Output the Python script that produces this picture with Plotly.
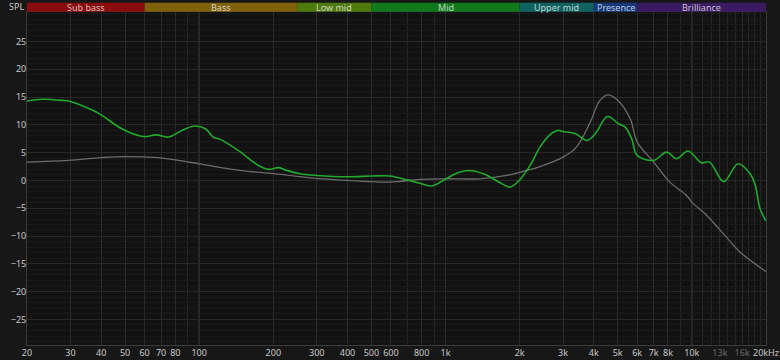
import numpy as np
import plotly.graph_objects as go

# ---- data ----
freq_green = [20, 23, 27.7, 30, 36.6, 40, 48.5, 59.3, 67, 75, 85, 96, 106, 114, 123, 144, 174, 191, 210, 223,
              257, 300, 400, 500, 594, 698, 800, 878, 980, 1110, 1242, 1426, 1666, 1828, 2000, 2206, 2418,
              2652, 2864, 3000, 3372, 3756, 4056, 4546, 5038, 5360, 5700, 6000, 6990, 7900, 8680, 9660,
              10920, 11800, 13460, 15400, 17240, 18100, 18920, 20000]
spl_green = [14.3, 14.6, 14.4, 14.2, 12.7, 11.8, 9.3, 7.9, 8.2, 7.8, 9.0, 9.8, 9.3, 7.8, 7.3, 5.4, 2.7, 2.0, 2.3, 1.9,
             1.2, 0.9, 0.66, 0.8, 0.8, 0.1, -0.6, -1.0, 0.0, 1.3, 1.8, 1.2, -0.4, -1.2, 0.1, 2.7, 6.0,
             8.2, 9.0, 8.8, 8.4, 7.2, 8.4, 11.5, 10.2, 9.6, 7.5, 4.5, 3.6, 5.1, 3.9, 5.3,
             3.2, 3.3, -0.2, 3.0, 1.2, -0.9, -5.1, -7.3]

freq_gray = [20, 29.4, 40, 50, 68, 80, 100, 136, 223, 290, 400, 542, 636, 790, 1000, 1375, 1770, 2130, 2418,
             3000, 3400, 3870, 4220, 4546, 4950, 5620, 6000, 7000, 8140, 9520, 10000, 11500, 13800, 15700, 20000]
spl_gray = [3.3, 3.6, 4.1, 4.3, 4.1, 3.7, 3.0, 2.0, 1.0, 0.4, 0.0, -0.3, -0.2, 0.2, 0.3, 0.3, 0.9, 1.8, 2.5,
            4.2, 6.0, 10.5, 14.3, 15.4, 14.6, 11.1, 6.9, 3.3, -0.3, -2.7, -3.9, -6.3, -10.2, -12.9, -16.4]

band_names = ["Sub bass", "Bass", "Low mid", "Mid", "Upper mid", "Presence", "Brilliance"]
band_edges = [20, 60, 250, 500, 2000, 4000, 6000, 20000]
band_colors = ["#8a0c0c", "#7f600b", "#4e790d", "#11791b", "#0f625f", "#16377a", "#3a1a60"]

x_tick_vals = [20, 30, 40, 50, 60, 70, 80, 100, 200, 300, 400, 500, 600, 800, 1000, 2000, 3000, 4000,
               5000, 6000, 7000, 8000, 10000, 13000, 16000, 20000]
x_tick_text = ["20", "30", "40", "50", "60", "70", "80", "100", "200", "300", "400", "500", "600", "800",
               "1k", "2k", "3k", "4k", "5k", "6k", "7k", "8k", "10k",
               "<span style='color:#6a6a6a'>13k</span>", "<span style='color:#6a6a6a'>16k</span>", "20kHz"]
x_minor_vals = [90, 700, 900, 9000, 11000, 12000, 14000, 15000, 17000, 18000, 19000]
x_bright_vals = [100, 1000, 10000]
y_tick_vals = [-25, -20, -15, -10, -5, 0, 5, 10, 15, 20, 25]
y_range = [-29.6, 30.3]

FONT = "Noto Sans"
FS = 9
x_lo, x_hi = np.log10(20) - 1e-7, np.log10(20000) + 1e-7

fig = go.Figure()
fig.add_trace(go.Scatter(x=freq_gray, y=spl_gray, mode="lines",
                         line=dict(color="#6c6c6c", width=1.3, shape="spline", smoothing=1.0),
                         hoverinfo="skip"))
fig.add_trace(go.Scatter(x=freq_green, y=spl_green, mode="lines",
                         line=dict(color="#22aa2c", width=1.6, shape="spline", smoothing=1.0),
                         hoverinfo="skip"))

shapes = []
for v in x_bright_vals:
    shapes.append(dict(type="line", xref="x", yref="paper", x0=v, x1=v, y0=0, y1=1,
                       line=dict(color="#4a4a4a", width=1), layer="below"))
annotations = []
for i, name in enumerate(band_names):
    a, b = band_edges[i], band_edges[i + 1]
    shapes.append(dict(type="rect", xref="x", yref="paper", x0=a, x1=b, y0=1.001, y1=1.028,
                       fillcolor=band_colors[i], line=dict(width=0), layer="above"))
    annotations.append(dict(x=(np.log10(a) + np.log10(b)) / 2, xref="x", y=1.0145, yref="paper",
                            text=name, showarrow=False, xanchor="center", yanchor="middle",
                            font=dict(family=FONT, size=FS, color="rgba(255,255,255,0.72)")))
annotations.append(dict(x=0, xref="paper", y=1, yref="paper", xanchor="right", yanchor="middle",
                        xshift=-1, yshift=6, text="SPL", showarrow=False,
                        font=dict(family=FONT, size=FS, color="#c8c8c8")))

fig.update_layout(
    width=780, height=360,
    margin=dict(l=27, r=14, t=12, b=15, autoexpand=False),
    paper_bgcolor="#171717", plot_bgcolor="#121212",
    showlegend=False,
    shapes=shapes, annotations=annotations,
    font=dict(family=FONT, size=FS, color="#c8c8c8"),
    xaxis=dict(type="log", range=[x_lo, x_hi],
               tickmode="array", tickvals=x_tick_vals, ticktext=x_tick_text,
               tickangle=0, automargin=False, ticklabelstandoff=-1,
               ticklabeloverflow="allow",
               showgrid=True, gridcolor="#2a2a2a", gridwidth=1, ticks="",
               showline=True, linecolor="#3c3c3c", mirror=True, zeroline=False,
               tickfont=dict(family=FONT, size=FS, color="#c8c8c8"),
               minor=dict(tickmode="array", tickvals=x_minor_vals, showgrid=True,
                          gridcolor="#262626", ticks=""),
               fixedrange=True),
    yaxis=dict(range=y_range, tickmode="array", tickvals=y_tick_vals,
               automargin=False, ticklabelstandoff=-2,
               showgrid=True, gridcolor="#282828", gridwidth=1, ticks="",
               showline=True, linecolor="#3c3c3c", mirror=True, zeroline=False,
               tickfont=dict(family=FONT, size=FS, color="#c8c8c8"),
               minor=dict(dtick=1, showgrid=True, gridcolor="#191919", ticks=""),
               fixedrange=True),
)

fig.write_html("out.html")
